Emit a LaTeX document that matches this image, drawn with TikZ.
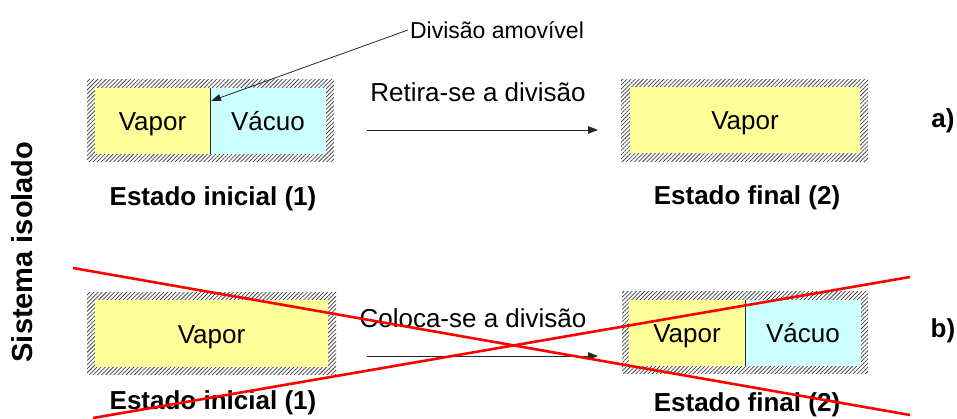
\documentclass[tikz,border=0pt]{standalone}
\usepackage{fontspec}
\setmainfont{Liberation Sans}
\usetikzlibrary{arrows.meta, positioning, patterns.meta}
\definecolor{vaporfill}{HTML}{FFFF99}
\definecolor{vacuofill}{HTML}{CCFFFF}
\definecolor{crossred}{HTML}{FF0000}
\colorlet{inkgray}{black!85}

\begin{document}
\begin{tikzpicture}[x=1pt, y=-1pt, font=\fontsize{26}{31}\selectfont,
    wall/.style={pattern={Lines[angle=45, distance=2.9pt, line width=0.75pt]},
                 pattern color=black!75, inner sep=0pt, minimum height=82pt},
    gas/.style={inner sep=0pt, minimum height=66pt, text height=23pt, text depth=4pt},
    statelbl/.style={font=\fontsize{26}{31}\selectfont\bfseries},
    move/.style={-{Triangle[length=10pt, width=7.5pt]}, line width=0.8pt, inkgray}]
  \useasboundingbox (0,0) rectangle (957,419);
  % --- side label ---
  \node[rotate=90, font=\fontsize{29}{34}\selectfont\bfseries] (sist) at (22,252) {Sistema isolado};
  % --- (a): the division is taken away ---
  \node[wall, minimum width=247pt] (wi1) at (210.5,121) {};
  \node[gas, fill=vaporfill, minimum width=115pt] (vi1) at (152.5,121) {Vapor};
  \node[gas, fill=vacuofill, minimum width=116pt] (ci1) at (268,121) {Vácuo};
  \draw[line width=0.8pt, inkgray] (vi1.north east) -- (vi1.south east);
  \node[wall, minimum width=247pt] (wf1) at (744.5,121) {};
  \node[gas, fill=vaporfill, minimum width=230pt] (vf1) at (745,120.5) {Vapor};
  \node[statelbl] (ei1) at (213,199) {Estado inicial (1)};
  \node[statelbl] (ef1) at (747,198) {Estado final (2)};
  \coordinate (r1s) at (367,130);
  \coordinate (r1e) at (598,130);
  \draw[move] (r1s) -- (r1e);
  \node (ret) at (478,92) {Retira-se a divisão};
  \node[statelbl] (pa) at (943,121) {a)};
  % movable wall callout
  \node[font=\fontsize{23}{28}\selectfont, inner sep=2pt] (dlbl) at (497,30) {Divisão amovível};
  \coordinate (dtip) at (211,101);
  \draw[-{Triangle[length=10pt, width=7pt]}, line width=0.8pt, inkgray] (dlbl.west) -- (dtip);
  % --- (b): the division is put back (impossible) ---
  \node[wall, minimum width=249pt] (wi2) at (211.5,333) {};
  \node[gas, fill=vaporfill, minimum width=233pt, minimum height=67pt] (vi2) at (211.5,333.5) {Vapor};
  \node[wall, minimum width=246pt] (wf2) at (745,332.5) {};
  \node[gas, fill=vaporfill, minimum width=116pt] (vf2) at (687,333) {Vapor};
  \node[gas, fill=vacuofill, minimum width=116pt] (cf2) at (803,333) {Vácuo};
  \draw[line width=0.8pt, inkgray] (vf2.north east) -- (vf2.south east);
  \node[statelbl] (ei2) at (213,403) {Estado inicial (1)};
  \node[statelbl] (ef2) at (747,405) {Estado final (2)};
  \coordinate (r2s) at (367,356);
  \coordinate (r2e) at (598,356);
  \draw[move] (r2s) -- (r2e);
  \node (col) at (473,318) {Coloca-se a divisão};
  \node[statelbl] (pb) at (943,331) {b)};
  % --- red cross over (b) ---
  \draw[crossred, line width=2.6pt] (73,268) -- (910,415);
  \draw[crossred, line width=2.6pt] (93,418) -- (910,277);
\end{tikzpicture}
\end{document}
